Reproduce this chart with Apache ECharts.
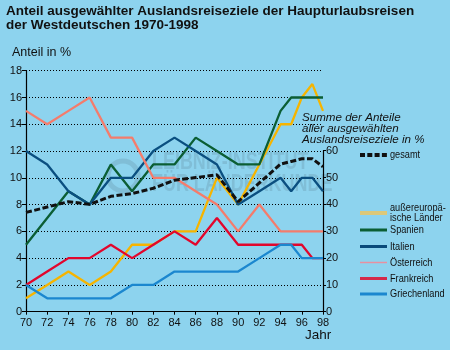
<!DOCTYPE html>
<html>
<head>
    <meta charset="utf-8" />
    <title>Auslandsreiseziele 1970-1998</title>
    <style>
        html, body { margin: 0; padding: 0; background: #8dd3ee; }
    </style>
</head>
<body>
    <div id="main" style="width: 450px;height:350px;"></div>
    <script src="https://cdn.jsdelivr.net/npm/echarts@6/dist/echarts.min.js"></script>
    <script type="text/javascript">
        // Werte (Jahr 70 = 1970)
        var jahreAussereuropa = [70, 72, 74, 76, 78, 80, 82, 84, 86, 88, 90, 92, 94, 95, 96, 97, 98];
        var aussereuropa = [1, 2, 3, 2, 3, 5, 5, 6, 6, 10, 8, 11, 14, 14, 16, 17, 15];

        var jahreSpanien = [70, 72, 74, 76, 78, 80, 82, 84, 86, 88, 90, 92, 94, 95, 96, 98];
        var spanien = [5, 7, 9, 8, 11, 9, 11, 11, 13, 12, 11, 11, 15, 16, 16, 16];

        var jahreItalien = [70, 72, 74, 76, 78, 80, 82, 84, 86, 88, 90, 92, 94, 95, 96, 97, 98];
        var italien = [12, 11, 9, 8, 10, 10, 12, 13, 12, 11, 8, 9, 10, 9, 10, 10, 9];

        var jahreOesterreich = [70, 72, 74, 76, 78, 80, 82, 84, 86, 88, 90, 92, 94, 96, 98];
        var oesterreich = [15, 14, 15, 16, 13, 13, 10, 10, 9, 8, 6, 8, 6, 6, 6];

        var jahreFrankreich = [70, 72, 74, 76, 78, 80, 82, 84, 86, 88, 90, 92, 94, 96, 97, 98];
        var frankreich = [2, 3, 4, 4, 5, 4, 5, 6, 5, 7, 5, 5, 5, 5, 4, 4];

        var jahreGriechenland = [70, 72, 74, 76, 78, 80, 82, 84, 86, 88, 90, 92, 94, 95, 96, 98];
        var griechenland = [2, 1, 1, 1, 1, 2, 2, 3, 3, 3, 3, 4, 5, 5, 4, 4];

        // Summe aller Anteile (rechte Achse)
        var jahreGesamt = [70, 72, 74, 76, 78, 80, 82, 84, 86, 88, 90, 92, 94, 95, 96, 97, 98];
        var gesamt = [37, 39, 41, 40, 43, 44, 46, 49, 50, 51, 41, 48, 55, 56, 57, 57, 54];

        var namen = ['außereuropäische Länder', 'Spanien', 'Italien', 'Österreich', 'Frankreich', 'Griechenland'];
        var legendTexte = ['außereuropä-\nische Länder', 'Spanien', 'Italien', 'Österreich', 'Frankreich', 'Griechenland'];
        var farben = ['#f6b400', '#0b5e34', '#0a4f80', '#f47c6c', '#e2062c', '#1b87cf'];
        var legendFarben = ['#dcc878', '#0b5e34', '#0a4a7a', '#e890a0', '#d42a4a', '#1b87cf'];
        var legendBreiten = [4, 3, 3, 1.5, 3, 3];
        var legendY = [213, 230, 246.5, 262.5, 278.5, 294];

        var sans = '"Liberation Sans", Arial, sans-serif';
        var schmal = 0.8; // Legendenschrift ist schmal gesetzt

        function paare(xs, ys) {
            return xs.map(function (x, i) { return [x, ys[i]]; });
        }

        var reihen = [
            paare(jahreAussereuropa, aussereuropa),
            paare(jahreSpanien, spanien),
            paare(jahreItalien, italien),
            paare(jahreOesterreich, oesterreich),
            paare(jahreFrankreich, frankreich),
            paare(jahreGriechenland, griechenland)
        ];

        function legendEintrag(y, text, linie) {
            return {
                type: 'group',
                children: [
                    {
                        type: 'line',
                        shape: { x1: 360, y1: y, x2: 387, y2: y },
                        style: linie
                    },
                    {
                        type: 'text',
                        x: 390,
                        y: y,
                        scaleX: schmal,
                        style: { x: 0, y: 0, text: text, font: '11.5px ' + sans, lineHeight: 10, verticalAlign: 'middle', fill: '#111' }
                    }
                ]
            };
        }

        var myChart = echarts.init(document.getElementById('main'));

        var option = {
            animation: false,
            backgroundColor: '#8dd3ee',
            title: {
                text: 'Anteil ausgewählter Auslandsreiseziele der Haupturlaubsreisen\nder Westdeutschen 1970-1998',
                left: 6,
                top: 5,
                padding: 0,
                textStyle: {
                    fontFamily: sans,
                    fontSize: 13.5,
                    fontWeight: 'bold',
                    color: '#111',
                    lineHeight: 13.3
                }
            },
            grid: [
                { left: 26, top: 70.7, width: 297, height: 241 },
                { left: 26, top: 150.7, width: 297, height: 161 }
            ],
            xAxis: [
                {
                    type: 'value',
                    gridIndex: 0,
                    min: 70,
                    max: 98,
                    interval: 2,
                    axisLine: { lineStyle: { color: '#000', width: 1.2 } },
                    axisTick: { show: true, length: 3, lineStyle: { color: '#000' } },
                    axisLabel: { color: '#111', fontSize: 11, fontFamily: sans, margin: 6 },
                    splitLine: { show: false }
                },
                {
                    type: 'value',
                    gridIndex: 1,
                    min: 70,
                    max: 98,
                    show: false
                }
            ],
            yAxis: [
                {
                    type: 'value',
                    gridIndex: 0,
                    min: 0,
                    max: 18,
                    interval: 2,
                    axisLine: { show: true, lineStyle: { color: '#000', width: 1.2 } },
                    axisTick: { show: true, length: 4, lineStyle: { color: '#000' } },
                    axisLabel: { color: '#111', fontSize: 11, fontFamily: sans, margin: 4 },
                    splitLine: { show: true, lineStyle: { color: '#000', width: 1, type: [1, 2] } }
                },
                {
                    type: 'value',
                    gridIndex: 1,
                    position: 'right',
                    min: 0,
                    max: 60,
                    interval: 10,
                    axisLine: { show: true, lineStyle: { color: '#000', width: 1.2 } },
                    axisTick: { show: true, length: 3, lineStyle: { color: '#000' } },
                    axisLabel: { color: '#111', fontSize: 11, fontFamily: sans, margin: 3 },
                    splitLine: { show: false }
                }
            ],
            graphic: [
                // Wasserzeichen
                {
                    type: 'circle', z: -1, silent: true,
                    shape: { cx: 123, cy: 176, r: 15 },
                    style: { fill: 'none', stroke: 'rgba(80,110,125,0.2)', lineWidth: 5 }
                },
                {
                    type: 'text', z: -1, silent: true, x: 152, y: 152, scaleX: 0.78,
                    style: { x: 0, y: 0, text: 'LEIBNIZ-INSTITUT\nFÜR LÄNDERKUNDE', font: 'bold 23px ' + sans, lineHeight: 22, fill: 'rgba(80,110,125,0.2)' }
                },
                {
                    type: 'text', left: 12, top: 46,
                    style: { text: 'Anteil in %', font: '12.5px ' + sans, fill: '#111' }
                },
                {
                    type: 'text', left: 302, top: 112,
                    style: { text: 'Summe der Anteile\naller ausgewählten\nAuslandsreiseziele in %', font: 'italic 11.6px ' + sans, lineHeight: 11, fill: '#111' }
                },
                {
                    type: 'text', left: 305, top: 328,
                    style: { text: 'Jahr', font: '13.5px ' + sans, fill: '#111' }
                },
                legendEintrag(155, 'gesamt', { stroke: '#111', lineWidth: 4, lineDash: [5, 2.3] })
            ],
            series: []
        };

        for (var i = 0; i < namen.length; i++) {
            option.series.push({
                name: namen[i],
                type: 'line',
                xAxisIndex: 0,
                yAxisIndex: 0,
                data: reihen[i],
                symbol: 'none',
                lineStyle: { color: farben[i], width: 2.3 },
                itemStyle: { color: farben[i] },
                z: 2 + i
            });
            option.graphic.push(legendEintrag(legendY[i], legendTexte[i], { stroke: legendFarben[i], lineWidth: legendBreiten[i] }));
        }

        option.series.push({
            name: 'gesamt',
            type: 'line',
            xAxisIndex: 1,
            yAxisIndex: 1,
            data: paare(jahreGesamt, gesamt),
            symbol: 'none',
            lineStyle: { color: '#111', width: 3, type: [6, 2.5] },
            itemStyle: { color: '#111' },
            z: 10
        });

        myChart.setOption(option);
    </script>
</body>
</html>
